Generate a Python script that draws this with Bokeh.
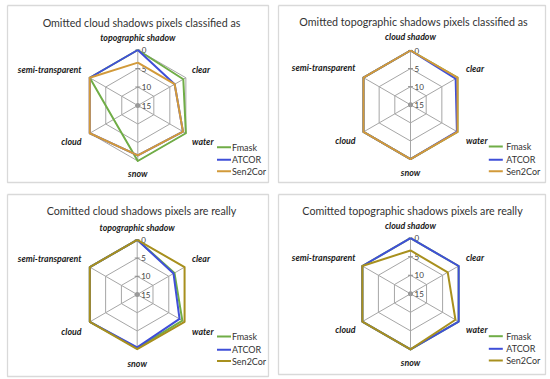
import math
from bokeh.plotting import figure
from bokeh.models import Range1d
from bokeh.core.properties import value
from bokeh.embed import file_html
from bokeh.resources import INLINE

# ---------------- data ----------------
titles = [
    "Omitted cloud shadows pixels classified as",
    "Omitted topographic shadows pixels classified as",
    "Comitted cloud shadows pixels are really",
    "Comitted topographic shadows pixels are really",
]
axes_cloud = ["topographic shadow", "clear", "water", "snow", "cloud", "semi-transparent"]
axes_topo = ["cloud shadow", "clear", "water", "snow", "cloud", "semi-transparent"]
tick_values = [0, 5, 10, 15]
series_names = ["Fmask", "ATCOR", "Sen2Cor"]

p1_fmask = [0, 0.8, 0, 0, 7.5, 0]
p1_atcor = [0, 3.5, 0.9, 1.5, 0, 0]
p1_sen2cor = [3.4, 3.5, 0.9, 1.5, 0, 0]

p2_fmask = [0, 0, 0, 0, 0, 0]
p2_atcor = [0, 0.6, 0.2, 0, 0, 0]
p2_sen2cor = [0, 0, 0, 0, 0, 0]

p3_fmask = [0, 3.2, 0.7, 0.3, 0, 0]
p3_atcor = [0, 3.5, 1.6, 0.5, 0, 0]
p3_sen2cor = [0, 0, 0, 0, 0, 0]

p4_fmask = [0, 0, 0, 0, 0, 0]
p4_atcor = [0, 0, 0, 0, 0, 0]
p4_sen2cor = [3.3, 3.4, 1.0, 0, 0, 0]

# ---------------- layout / style ----------------
FONT = value("Lato")
c_green = "#70AD47"
c_blue = "#3F4FD8"
c_orange_top = "#D29A3A"
c_olive = "#A8901E"
grid_col = "#A6A6A6"
vmax = 15.0

panels = [
    dict(box=(7, 5, 268, 182), title_xy=(141, 21.5), c=(137.3, 105.0), R=55.5,
         axes=axes_cloud, data=[p1_fmask, p1_atcor, p1_sen2cor], s2c=c_orange_top,
         lab_y=[36.5, 69.3, 141, 173, 141, 69.3], lab_side=(191.5, 81),
         leg=(216.5, 231.5, [146.7, 159.3, 170.7])),
    dict(box=(278, 5, 545, 182), title_xy=(413, 20.7), c=(410.0, 104.3), R=54.3,
         axes=axes_topo, data=[p2_fmask, p2_atcor, p2_sen2cor], s2c=c_orange_top,
         lab_y=[36, 67.7, 140, 172, 140, 67.3], lab_side=(465.5, 355),
         leg=(488.3, 505.7, [146, 159.3, 170.7])),
    dict(box=(7, 194, 268, 376), title_xy=(141, 210), c=(136.7, 294.0), R=54.7,
         axes=axes_cloud, data=[p3_fmask, p3_atcor, p3_sen2cor], s2c=c_olive,
         lab_y=[226.7, 258.3, 330.7, 362.7, 330.7, 258.3], lab_side=(191.5, 81),
         leg=(216.5, 231.5, [336, 349.3, 360.5])),
    dict(box=(278, 194, 545, 374), title_xy=(412, 210), c=(410.0, 293.3), R=55.6,
         axes=axes_topo, data=[p4_fmask, p4_atcor, p4_sen2cor], s2c=c_olive,
         lab_y=[225, 256.7, 329.3, 361.7, 329.3, 256.7], lab_side=(465.5, 355),
         leg=(488.3, 505.7, [335.7, 348.3, 360])),
]

p = figure(width=550, height=379, output_backend="svg", toolbar_location=None,
           x_range=Range1d(0, 550), y_range=Range1d(379, 0), min_border=0)
p.axis.visible = False
p.grid.visible = False
p.outline_line_color = None
p.background_fill_color = "white"


def polar(cx, cy, R, k, v):
    th = math.radians(60 * k)
    r = R * (vmax - v) / vmax
    return cx + r * math.sin(th), cy - r * math.cos(th)


for pan in panels:
    x0, y0, x1, y1 = pan["box"]
    p.line([x0, x1, x1, x0, x0], [y0, y0, y1, y1, y0], line_color="#D9D9D9", line_width=1.3)
    cx, cy = pan["c"]
    R = pan["R"]
    # grid rings
    for tv in tick_values[:-1]:
        pts = [polar(cx, cy, R, k, tv) for k in range(7)]
        p.line([q[0] for q in pts], [q[1] for q in pts], line_color=grid_col, line_width=1)
    # spokes
    for k in range(6):
        ex, ey = polar(cx, cy, R, k, 0)
        p.line([cx, ex], [cy, ey], line_color=grid_col, line_width=1)
    # ticks on vertical axis
    for tv in tick_values:
        tx, ty = polar(cx, cy, R, 0, tv)
        p.line([tx - 2.5, tx + 2.5], [ty, ty], line_color="#8C8C8C", line_width=1)
    p.scatter([cx], [cy], size=5, fill_color="#999999", line_color=None)
    # tick labels
    p.text([cx + 4] * 4, [polar(cx, cy, R, 0, tv)[1] for tv in tick_values],
           text=[str(t) for t in tick_values], text_font=FONT, text_font_size="8px",
           text_color="#404040", text_align="left", text_baseline="middle")
    # series
    cols = [c_green, c_blue, pan["s2c"]]
    for vals, col in zip(pan["data"], cols):
        pts = [polar(cx, cy, R, k % 6, vals[k % 6]) for k in range(7)]
        p.line([q[0] for q in pts], [q[1] for q in pts], line_color=col, line_width=2,
               line_join="round")
    # axis labels
    rx, lx = pan["lab_side"]
    lab_x = [cx, rx, rx, cx, lx, lx]
    aligns = ["center", "left", "left", "center", "right", "right"]
    for k in range(6):
        p.text([lab_x[k]], [pan["lab_y"][k]], text=[pan["axes"][k]], text_font=FONT,
               text_font_size="8.8px", text_font_style="bold italic", text_color="#1A1A1A",
               text_align=aligns[k], text_baseline="middle")
    # legend
    lx0, tx0, ly = pan["leg"]
    for name, col, yy in zip(series_names, cols, ly):
        p.line([lx0, lx0 + 14], [yy, yy], line_color=col, line_width=2)
        p.text([tx0], [yy], text=[name], text_font=FONT, text_font_size="9px",
               text_color="#333333", text_align="left", text_baseline="middle")

titles_xy = [pan["title_xy"] for pan in panels]
p.text([t[0] for t in titles_xy], [t[1] for t in titles_xy], text=titles, text_font=FONT,
       text_font_size="10.7px", text_color="#333333", text_align="center",
       text_baseline="middle")

open("out.html", "w").write(file_html(p, INLINE))
